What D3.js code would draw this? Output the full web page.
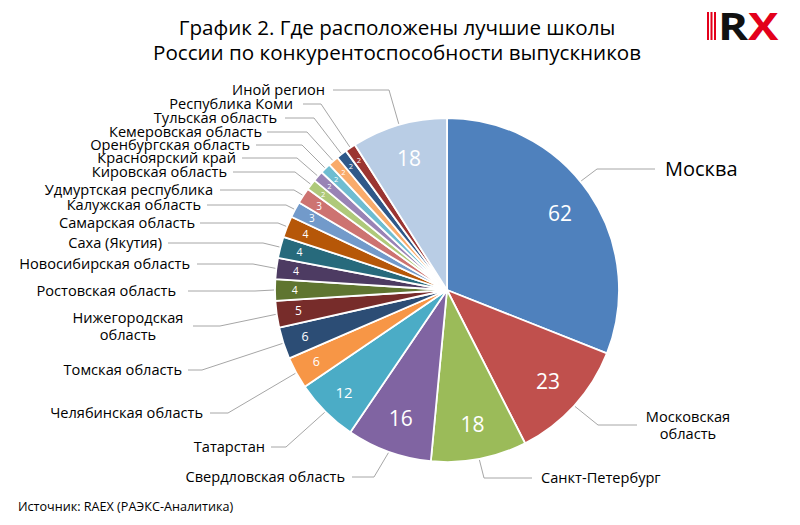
<!DOCTYPE html>
<html><head><meta charset="utf-8">
<script src="https://cdn.jsdelivr.net/npm/d3@7"></script>
<style>
body{margin:0;background:#fff;}
text{font-family:"Open Sans",sans-serif;}
</style></head>
<body>
<svg id="chart" width="800" height="525"></svg>
<script>
// ---- data ----
const categories = ["Москва","Московская область","Санкт-Петербург","Свердловская область","Татарстан","Челябинская область","Томская область","Нижегородская область","Ростовская область","Новосибирская область","Саха (Якутия)","Самарская область","Калужская область","Удмуртская республика","Кировская область","Красноярский край","Оренбургская область","Кемеровская область","Тульская область","Республика Коми","Иной регион"];
const values = [62,23,18,16,12,6,6,5,4,4,4,4,3,3,2,2,2,2,2,2,18];
const titleLines = ["График 2. Где расположены лучшие школы","России по конкурентоспособности выпускников"];
const sourceText = "Источник: RAEX (РАЭКС-Аналитика)";

// ---- styles / layout ----
const colors = ["#4F81BD","#C0504D","#9BBB59","#8064A2","#4BACC6","#F79646","#2C4D75","#772C2A","#5F7530","#4D3B62","#276A7C","#B65708","#729ACA","#CD7371","#AFC97A","#9983B5","#6FBDD1","#F9AB6B","#2F5889","#9B3532","#B9CDE5"];
// label placement: text anchor x, leader y, text anchor, leader start x, elbow x, optional anchor fraction in slice
const labelLayout = [
 {x:665,y:169,a:"start",lx:655,ex:597,at:0.456,fs:20,lines:["Москва"]},
 {x:688,y:425,a:"middle",lx:637,ex:598,lines:["Московская","область"]},
 {x:541,y:478,a:"start",lx:532,ex:484},
 {x:345,y:477,a:"end",lx:352,ex:374},
 {x:265,y:447,a:"end",lx:271,ex:286},
 {x:203,y:413,a:"end",lx:210,ex:228},
 {x:182,y:370,a:"end",lx:188,ex:202},
 {x:128,y:326,a:"middle",lx:193,ex:220,lines:["Нижегородская","область"]},
 {x:176,y:291,a:"end",lx:188,ex:255},
 {x:190,y:264,a:"end",lx:197,ex:253},
 {x:162,y:243,a:"end",lx:168,ex:263},
 {x:195,y:223,a:"end",lx:200,ex:278},
 {x:201,y:205,a:"end",lx:207,ex:286},
 {x:213,y:190,a:"end",lx:220,ex:294},
 {x:227,y:172,a:"end",lx:233,ex:295},
 {x:236,y:158,a:"end",lx:242,ex:297},
 {x:250,y:145,a:"end",lx:256,ex:302},
 {x:262,y:132,a:"end",lx:267,ex:307},
 {x:277,y:118,a:"end",lx:285,ex:314},
 {x:293,y:104,a:"end",lx:303,ex:321},
 {x:325,y:90,a:"end",lx:333,ex:389}
];

const svg = d3.select("#chart");
const cx = 447, cy = 290, R = 172;

// title
svg.append("g").selectAll("text").data(titleLines).join("text")
  .attr("x",397).attr("y",(d,i)=>35+i*25).attr("text-anchor","middle")
  .attr("font-size",20.6).attr("fill","#000").text(d=>d);

// source
svg.append("text").attr("x",18).attr("y",511).attr("font-size",12.6).attr("fill","#000").text(sourceText);

// logo
const logo = svg.append("g");
[707,710.5,714].forEach(x=>logo.append("rect").attr("x",x).attr("y",12).attr("width",2).attr("height",28).attr("fill","#E3001B"));
const lt = logo.append("g").attr("transform","translate(718,40) scale(1.2,1)");
lt.append("text").attr("x",0).attr("y",0).attr("font-family","Liberation Sans, Arial, sans-serif").attr("font-weight","bold").attr("font-size",38).attr("fill","#111").text("R");
lt.append("text").attr("x",25).attr("y",0).attr("font-family","Liberation Sans, Arial, sans-serif").attr("font-weight","bold").attr("font-size",38).attr("fill","#E3001B").text("X");

// pie
const data = categories.map((c,i)=>({name:c,value:values[i],i}));
const pie = d3.pie().value(d=>d.value).sort(null);
const arcs = pie(data);
const arc = d3.arc().innerRadius(0).outerRadius(R);
const g = svg.append("g").attr("transform",`translate(${cx},${cy})`);
g.selectAll("path").data(arcs).join("path")
  .attr("d",arc).attr("fill",d=>colors[d.data.i])
  .attr("stroke","#fff").attr("stroke-width",1.8).attr("stroke-linejoin","round");

// value labels inside
function valFont(v){ return v>=16?21: v>=12?15: v>=6?12.5: v>=5?12: v>=4?10.5: v>=3?10:7.5; }
g.selectAll("text.val").data(arcs).join("text").attr("class","val")
  .each(function(d){
    const fs = valFont(d.data.value);
    const rr = R - (fs*1.5+4);
    const a = (d.startAngle+d.endAngle)/2;
    d3.select(this).attr("x",rr*Math.sin(a)).attr("y",-rr*Math.cos(a))
      .attr("font-size",fs).attr("dy","0.36em");
  })
  .attr("text-anchor","middle").attr("fill","#fff").text(d=>d.data.value);

// leader lines & category labels
const lg = svg.append("g");
arcs.forEach((d,i)=>{
  const L = labelLayout[i];
  const f = L.at!==undefined?L.at:0.5;
  const a = d.startAngle + (d.endAngle-d.startAngle)*f;
  const px = cx + (R+1)*Math.sin(a), py = cy - (R+1)*Math.cos(a);
  lg.append("polyline").attr("points",`${L.lx},${L.y} ${L.ex},${L.y} ${px},${py}`)
    .attr("fill","none").attr("stroke","#A6A6A6").attr("stroke-width",1);
  const lines = L.lines || [d.data.name];
  const fs = L.fs || 14.6;
  const lh = 17;
  const t = lg.append("text").attr("text-anchor",L.a).attr("font-size",fs).attr("fill","#000");
  lines.forEach((ln,k)=>{
    t.append("tspan").attr("x",L.x).attr("y",L.y + (k-(lines.length-1)/2)*lh).attr("dy","0.36em").text(ln);
  });
});
</script>
</body></html>
